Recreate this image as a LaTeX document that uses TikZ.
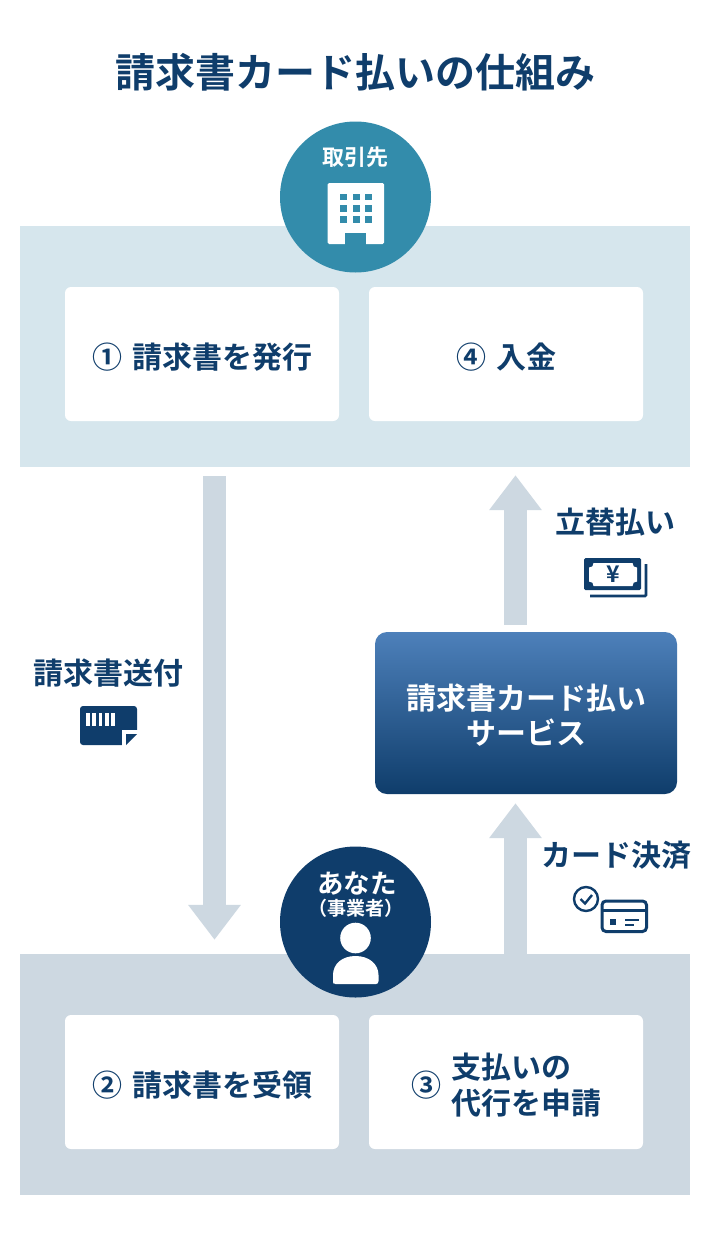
\documentclass[tikz,border=0pt]{standalone}
\usepackage{fontspec}
\setmainfont{Noto Sans CJK JP}[BoldFont={Noto Sans CJK JP Bold}]
\usetikzlibrary{arrows.meta,calc}
\definecolor{navy}{HTML}{0F3D6B}
\definecolor{teal1}{HTML}{338CAB}
\definecolor{bandtop}{HTML}{D6E6ED}
\definecolor{bandbot}{HTML}{CDD8E1}
\definecolor{arrowc}{HTML}{CDD8E1}
\definecolor{svctop}{HTML}{4D80BA}
\newcommand{\fs}[1]{\fontsize{#1}{#1}\selectfont\bfseries}
\tikzset{
 band/.style={inner sep=0pt,minimum width=670pt,minimum height=241pt},
 whitebox/.style={fill=white,rounded corners=6pt,inner sep=0pt,minimum width=274pt,minimum height=134pt},
 hub/.style={circle,inner sep=0pt,minimum size=151pt},
 lab/.style={inner sep=0pt,text=navy,font=\fs{30}},
 blockarrow/.style={draw=arrowc,line width=23pt,-{Triangle[length=35pt,width=50.5pt,color=arrowc]}},
 ic/.style={draw=navy,line width=3pt},
}
\begin{document}
\begin{tikzpicture}[x=1pt,y=-1pt]
\useasboundingbox (0,0) rectangle (710,1242);
\fill[white] (0,0) rectangle (710,1242);
\node[inner sep=0pt,text=navy,font=\fs{40}] (title) at (355.5,72) {請求書カード払いの仕組み};
% bands
\node[band,fill=bandtop] (topband) at (355,346.5) {};
\node[band,fill=bandbot] (botband) at (355,1074.5) {};
% boxes
\node[whitebox] (b1) at (202,354) {};
\node[whitebox] (b4) at (506,354) {};
\node[whitebox] (b2) at (202,1082) {};
\node[whitebox] (b3) at (506,1082) {};
\node[lab] (t1) at (202.5,357) {①\hspace{11pt}請求書を発行};
\node[lab] (t4) at (506.5,357) {④\hspace{11pt}入金};
\node[lab] (t2) at (202.5,1085) {②\hspace{11pt}請求書を受領};
\node[lab] (n3) at (426,1085) {③};
\node[lab,anchor=west] (t3a) at (451,1067) {支払いの};
\node[lab,anchor=west] (t3b) at (451,1103) {代行を申請};
% service
\node[rounded corners=12pt,inner sep=0pt,minimum width=302pt,minimum height=162pt,top color=svctop,bottom color=navy] (svc) at (526,713) {};
\node[inner sep=0pt,text=white,font=\fs{30}] (s1) at (526.5,698) {請求書カード払い};
\node[inner sep=0pt,text=white,font=\fs{30}] (s2) at (526,733) {サービス};
% arrows
\coordinate (xa) at (214.5,0);
\coordinate (xb) at (515.5,0);
\draw[blockarrow,shorten <=9pt,shorten >=14pt] (topband.south -| xa) -- (botband.north -| xa);
\draw[blockarrow,shorten <=7pt,shorten >=8pt] (svc.north -| xb) -- (topband.south -| xb);
\draw[blockarrow,shorten >=9pt] (botband.north -| xb) -- (svc.south -| xb);
% labels
\node[lab] (l1) at (108.5,673) {請求書送付};
\node[lab] (l2) at (615,522) {立替払い};
\node[lab] (l3) at (616,855) {カード決済};
% hubs
\node[hub,fill=teal1] (c1) at (355.5,197) {};
\node[hub,fill=navy] (c2) at (355.5,922) {};
\node[inner sep=0pt,text=white,font=\fs{22}] (c1t) at (355.5,157) {取引先};
\node[inner sep=0pt,text=white,font=\fs{26.5}] (c2t) at (357,883) {あなた};
\node[inner sep=0pt,text=white,font=\fs{19}] (c2u) at (355.5,908) {（事業者）};
% building icon
\fill[white,rounded corners=1.5pt] (327.5,183) rectangle (384,244);
\fill[teal1] (345,244.5) rectangle (366,233);
\foreach \x in {339.5,352.5,364.5}\foreach \y in {193.5,205,216}{\fill[teal1] (\x,\y) rectangle ++(7.5,6.5);}
% person icon
\fill[white] (355.5,938) circle (15.3);
\fill[white] (333,984) -- (333,975) .. controls (333,964) and (342,956) .. (355.5,956) .. controls (369,956) and (378.5,964) .. (378.5,975) -- (378.5,981) .. controls (378.5,983) and (377.5,984) .. (376,984) -- (335.5,984) .. controls (334,984) and (333,983) .. (333,981) -- cycle;
% invoice icon
\fill[navy,rounded corners=3pt] (80,706) rectangle (137,745);
\fill[white] (122,745.5) -- (122,730) -- (137.5,730) -- (137.5,745.5) -- cycle;
\fill[navy] (126,734) -- (137,734) -- (126,745) -- cycle;
\foreach \x in {86,92.3,98.6,104.9,111.2}{\fill[white] (\x,713) rectangle ++(3.6,13);}
% cash icon
\draw[navy,line width=2.6pt,rounded corners=1pt] (646,564) -- (646,596) -- (590,596);
\fill[navy,rounded corners=1.5pt] (584,558) rectangle (641,590);
\fill[white] (593.5,563) -- (632.5,563) .. controls (632.5,566) and (634,567.5) .. (637,567.5)
  -- (637,581.5) .. controls (634,581.5) and (632.5,583) .. (632.5,586)
  -- (593.5,586) .. controls (593.5,583) and (592,581.5) .. (589,581.5)
  -- (589,567.5) .. controls (592,567.5) and (593.5,566) .. (593.5,563) -- cycle;
\node[inner sep=0pt,text=navy,font=\fs{23}] (yen) at (613,574) {¥};
% card icon
\draw[ic,rounded corners=4pt] (602,901) rectangle (646.5,931.5);
\draw[navy,line width=3pt] (602,910.5) -- (646.5,910.5);
\fill[navy] (610,919) rectangle (616,925);
\draw[navy,line width=1.7pt] (625,920) -- (639,920) (625,925) -- (634,925);
\fill[white] (586,899) circle (14.5);
\draw[ic,line width=2.4pt] (586,899) circle (12);
\draw[navy,line width=2.4pt] (580.5,899) -- (585,903.5) -- (592,895);
\end{tikzpicture}
\end{document}
